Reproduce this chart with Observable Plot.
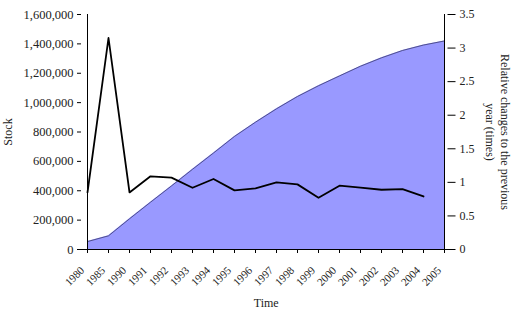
<!DOCTYPE html>
<html>
<head>
<meta charset="utf-8">
<script src="https://cdn.jsdelivr.net/npm/d3@7"></script>
<script src="https://cdn.jsdelivr.net/npm/@observablehq/plot@0.6"></script>
<style>
  html, body { margin: 0; padding: 0; background: #fff; }
  svg, svg text { font-family: 'Liberation Serif', 'Times New Roman', serif !important; }
</style>
</head>
<body>
<div id="chart"></div>
<script>
const years = ["1980","1985","1990","1991","1992","1993","1994","1995","1996","1997","1998","1999","2000","2001","2002","2003","2004","2005"];
const stock = [54000, 93000, 209000, 322000, 433000, 546000, 657000, 770000, 867000, 958000, 1042000, 1115000, 1182000, 1248000, 1305000, 1355000, 1392000, 1420000];
const relChange = [0.85, 3.15, 0.85, 1.09, 1.07, 0.92, 1.05, 0.88, 0.91, 1.00, 0.97, 0.77, 0.95, 0.92, 0.89, 0.90, 0.79, null];
const stockTicks = [0, 200000, 400000, 600000, 800000, 1000000, 1200000, 1400000, 1600000];
const ratioTicks = [0, 0.5, 1, 1.5, 2, 2.5, 3, 3.5];

const stockMax = 1600000;
const ratioMax = 3.5;
const k = stockMax / ratioMax;

const rows = years.map((y, i) => ({year: y, stock: stock[i], rel: relChange[i]}));
const lineRows = rows.filter(d => d.rel != null).map(d => ({year: d.year, v: d.rel * k}));
const fmt = d3.format(",");

const chart = Plot.plot({
  width: 520,
  height: 315,
  marginLeft: 81,
  marginRight: 69.5,
  marginTop: 14,
  marginBottom: 66,
  style: {fontFamily: "'Liberation Serif', 'Times New Roman', serif", fontSize: "12px", color: "#222", background: "#fff"},
  x: {type: "point", domain: years, padding: 0, label: null},
  y: {domain: [0, stockMax], label: null},
  marks: [
    Plot.areaY(rows, {x: "year", y: "stock", fill: "#9999ff"}),
    Plot.lineY(rows, {x: "year", y: "stock", stroke: "#3b3b70", strokeWidth: 0.8}),
    Plot.lineY(lineRows, {x: "year", y: "v", stroke: "#000", strokeWidth: 1.8}),
    Plot.ruleY([0], {stroke: "#000", strokeWidth: 1}),
    Plot.ruleX([years[0]], {y1: 0, y2: stockMax, stroke: "#000", strokeWidth: 1}),
    Plot.ruleX([years[years.length - 1]], {y1: 0, y2: stockMax, stroke: "#000", strokeWidth: 1}),
    Plot.axisY(stockTicks, {anchor: "left", tickSize: 4, tickPadding: 4, tickFormat: fmt, fontSize: 12.5, fill: "#222", stroke: "#000"}),
    Plot.axisY(ratioTicks.map(t => t * k), {anchor: "right", tickSize: 8, dx: -4, tickFormat: () => "", stroke: "#000"}),
    Plot.axisY(ratioTicks.map(t => t * k), {anchor: "right", tickSize: 0, tickPadding: 8.5, fontSize: 12, tickFormat: d => String(+(d / k).toFixed(1)), fill: "#222"}),
    Plot.axisX(years, {anchor: "bottom", tickSize: 4, tickFormat: () => "", stroke: "#000"}),
    Plot.axisX(years, {anchor: "bottom", tickSize: 0, tickPadding: 19, dx: -5, tickRotate: -45, textAnchor: "end", lineAnchor: "middle", fontSize: 11, fill: "#222"}),
    Plot.text(["Stock"], {frameAnchor: "left", textAnchor: "middle", rotate: -90, dx: -73.5, fontSize: 12, fill: "#222"}),
    Plot.text(["Time"], {frameAnchor: "bottom", textAnchor: "middle", dy: 57, fontSize: 12, fill: "#222"}),
    Plot.text(["Relative changes to the previous\nyear (times)"], {frameAnchor: "right", textAnchor: "middle", rotate: 90, dx: 47.5, lineHeight: 1.25, fontSize: 12, fill: "#222"})
  ]
});
document.getElementById("chart").appendChild(chart);
</script>
</body>
</html>
